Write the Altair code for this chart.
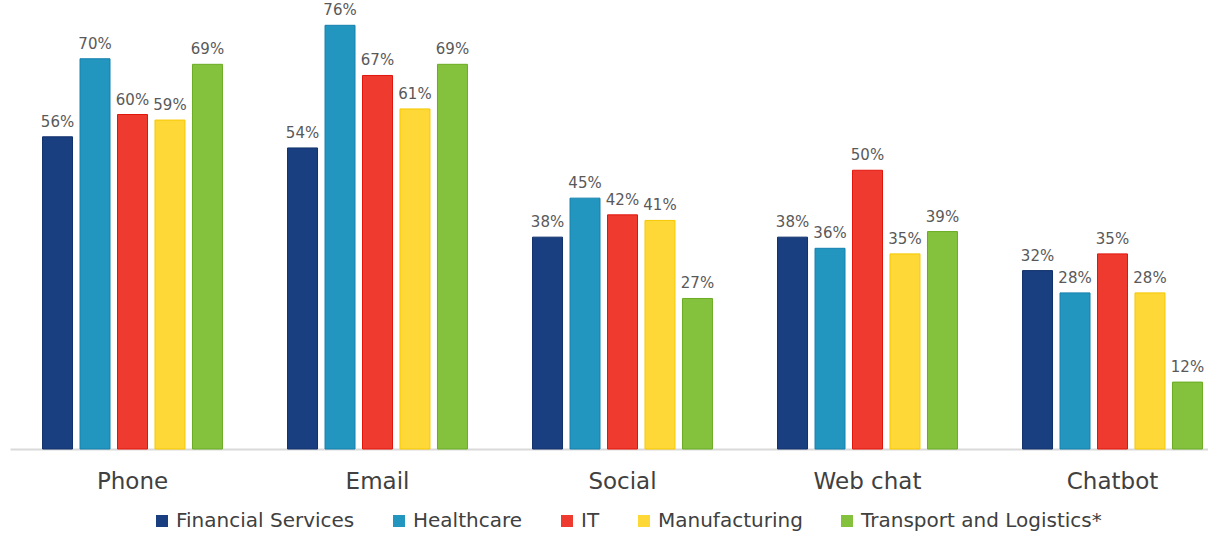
import altair as alt
import pandas as pd

# Contact channels and industry sectors
channels = ["Phone", "Email", "Social", "Web chat", "Chatbot"]
sectors = ["Financial Services", "Healthcare", "IT", "Manufacturing", "Transport and Logistics*"]

# Share of respondents (%) per channel, one list per sector
financial = [56, 54, 38, 38, 32]
healthcare = [70, 76, 45, 36, 28]
it = [60, 67, 42, 50, 35]
manufacturing = [59, 61, 41, 35, 28]
transport = [69, 69, 27, 39, 12]

fill_colors = ["#1a3f80", "#2396c0", "#ef3b2f", "#fed836", "#84c23e"]
edge_colors = ["#10306a", "#1580ad", "#e0150c", "#f7c800", "#6aab22"]

series = [financial, healthcare, it, manufacturing, transport]
rows = []
for sector, values in zip(sectors, series):
    for channel, v in zip(channels, values):
        rows.append({"channel": channel, "sector": sector, "value": v})
df = pd.DataFrame(rows)

font = "DejaVu Sans"

x_enc = alt.X(
    "channel:N",
    sort=channels,
    scale=alt.Scale(range=[0, 1225], paddingInner=0.235, paddingOuter=0.1175),
    axis=alt.Axis(
        title=None,
        labelAngle=0,
        labelFont=font,
        labelFontSize=23,
        labelColor="#404040",
        labelBaseline="alphabetic",
        labelPadding=39,
        ticks=False,
        tickSize=0,
        domainColor="#d9d9d9",
        domainWidth=2,
        grid=False,
    ),
)
xoff_enc = alt.XOffset(
    "sector:N", sort=sectors, scale=alt.Scale(paddingInner=0.2, paddingOuter=0.1)
)
y_enc = alt.Y("value:Q", scale=alt.Scale(domain=[0, 80]), axis=None)

base = alt.Chart(df).encode(x=x_enc, xOffset=xoff_enc, y=y_enc)

bars = base.mark_bar(strokeWidth=1).encode(
    color=alt.Color(
        "sector:N",
        sort=sectors,
        scale=alt.Scale(domain=sectors, range=fill_colors),
        legend=alt.Legend(
            title=None,
            orient="none",
            direction="horizontal",
            legendX=142,
            legendY=508,
            symbolType="square",
            symbolSize=144,
            symbolStrokeWidth=0,
            labelFont=font,
            labelFontSize=20,
            labelColor="#404040",
            labelLimit=400,
            labelOffset=4,
            columnPadding=34,
            padding=0,
        ),
    ),
    stroke=alt.Stroke(
        "sector:N",
        sort=sectors,
        scale=alt.Scale(domain=sectors, range=edge_colors),
        legend=None,
    ),
)

labels = base.transform_calculate(label="datum.value + '%'").mark_text(
    baseline="alphabetic",
    dy=-10,
    font=font,
    fontSize=15,
    color="#595959",
).encode(text="label:N")

chart = (
    alt.layer(bars, labels)
    .properties(
        width=1198,
        height=446,
        background="white",
        autosize=alt.AutoSizeParams(type="none"),
        padding={"left": 10, "top": 3, "right": 0, "bottom": 107},
    )
    .configure_view(strokeWidth=0)
)

chart.save("out.html", embed_options={"renderer": "svg", "actions": False})
